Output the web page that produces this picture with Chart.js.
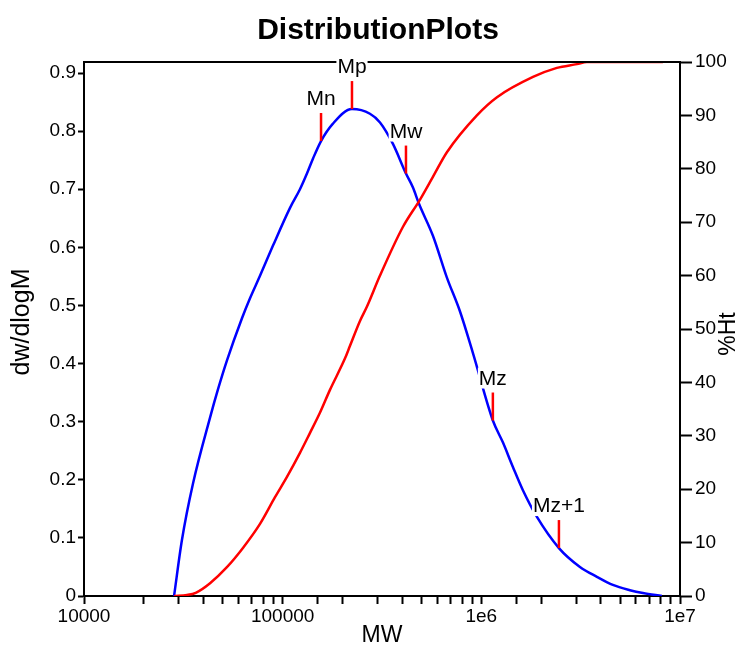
<!DOCTYPE html>
<html>
<head>
<meta charset="utf-8">
<script src="https://cdn.jsdelivr.net/npm/chart.js@4/dist/chart.umd.min.js"></script>
<style>
  html, body { margin: 0; padding: 0; background: #fff; }
  #distChart { display: block; }
</style>
</head>
<body>
<canvas id="distChart" width="740" height="653"></canvas>
<script>
// dw/dlogM curve (blue, left axis)
const mwDist = [28400, 31100, 35400, 43100, 47200, 52400, 62400, 68400, 76900, 89400,
  108900, 122200, 132500, 142200, 156000, 179100, 223300, 275000, 309000, 359000,
  417500, 452700, 485500, 570600, 671000, 780300, 907300, 1143000, 1285000, 1442000,
  1619000, 1905000, 2458000, 3136000, 3817000, 4592000, 5594000, 6507000, 8106000];
const dwdlogM = [0, 0.096, 0.194, 0.307, 0.355, 0.405, 0.478, 0.512, 0.551, 0.603,
  0.668, 0.700, 0.727, 0.753, 0.783, 0.813, 0.838, 0.830, 0.815, 0.778,
  0.727, 0.703, 0.675, 0.620, 0.548, 0.490, 0.418, 0.302, 0.264, 0.222,
  0.182, 0.136, 0.0825, 0.050, 0.033, 0.019, 0.010, 0.005, 0];

// cumulative %Ht curve (red, right axis)
const mwCum = [28400, 33000, 36500, 43100, 52400, 63100, 76900, 91500, 105100, 122200,
  137100, 154000, 173000, 206000, 218000, 245000, 265700, 309000, 402700, 490600,
  570600, 671000, 950000, 1199000, 1820000, 2400000, 3030000, 3400000, 8200000];
const pctHt = [0, 0.2, 0.6, 2.4, 5.4, 9.0, 13.5, 18.5, 22.3, 26.8,
  30.5, 34.3, 38.6, 44.5, 46.8, 51.5, 54.2, 60.0, 69.1, 74.2,
  78.5, 83.1, 90.0, 93.4, 97.2, 98.9, 99.6, 100, 100];

// molecular weight averages
const markerNames = ['Mn', 'Mp', 'Mw', 'Mz', 'Mz+1'];
const markerMW = [156000, 223300, 417500, 1143000, 2458000];
const markerValue = [0.783, 0.838, 0.727, 0.302, 0.0825];

const decadeLabels = { 4: '10000', 5: '100000', 6: '1e6', 7: '1e7' };

const FONT = 'Liberation Sans, Arial, sans-serif';

const annotations = {
    id: 'annotations',
    afterDraw(chart) {
        const ctx = chart.ctx;
        const area = chart.chartArea;
        const xs = chart.scales.x;
        const ys = chart.scales.y;
        ctx.save();

        // top frame line
        ctx.strokeStyle = '#000';
        ctx.lineWidth = 2;
        ctx.beginPath();
        ctx.moveTo(area.left - 1, area.top);
        ctx.lineTo(area.right + 1, area.top);
        ctx.stroke();

        // marker ticks + labels
        ctx.font = '21px ' + FONT;
        ctx.textAlign = 'center';
        ctx.textBaseline = 'alphabetic';
        markerNames.forEach((name, i) => {
            const px = xs.getPixelForValue(markerMW[i]);
            const py = ys.getPixelForValue(markerValue[i]);
            const topY = py - 28;
            ctx.strokeStyle = '#ff0000';
            ctx.lineWidth = 2.5;
            ctx.beginPath();
            ctx.moveTo(px, py);
            ctx.lineTo(px, topY);
            ctx.stroke();
            const w = ctx.measureText(name).width;
            const base = topY - 8;
            ctx.fillStyle = '#fff';
            ctx.fillRect(px - w / 2 - 1, base - 17, w + 2, 21);
            ctx.fillStyle = '#000';
            ctx.fillText(name, px, base);
        });

        // titles
        ctx.fillStyle = '#000';
        ctx.textBaseline = 'middle';
        ctx.font = 'bold 30px ' + FONT;
        ctx.fillText('DistributionPlots', 378, 31);
        ctx.font = '23px ' + FONT;
        ctx.fillText('MW', 382, 636);

        ctx.save();
        ctx.translate(22, 322);
        ctx.rotate(-Math.PI / 2);
        ctx.font = '25px ' + FONT;
        ctx.fillText('dw/dlogM', 0, 0);
        ctx.restore();

        ctx.save();
        ctx.translate(729, 334);
        ctx.rotate(-Math.PI / 2);
        ctx.font = '23px ' + FONT;
        ctx.fillText('%Ht', 0, 0);
        ctx.restore();

        ctx.restore();
    }
};

const axisGrid = (len) => ({
    drawOnChartArea: false,
    drawTicks: true,
    tickLength: len,
    tickColor: '#000',
    tickWidth: 2
});

new Chart(document.getElementById('distChart').getContext('2d'), {
    type: 'line',
    data: {
        datasets: [{
            label: '%Ht',
            data: mwCum.map((m, i) => ({ x: m, y: pctHt[i] })),
            yAxisID: 'y2',
            borderColor: '#ff0000',
            borderWidth: 2.5,
            pointRadius: 0,
            cubicInterpolationMode: 'monotone',
            fill: false
        }, {
            label: 'dw/dlogM',
            data: mwDist.map((m, i) => ({ x: m, y: dwdlogM[i] })),
            yAxisID: 'y',
            borderColor: '#0000ff',
            borderWidth: 2.5,
            pointRadius: 0,
            cubicInterpolationMode: 'monotone',
            fill: false
        }]
    },
    options: {
        responsive: false,
        devicePixelRatio: 1,
        animation: false,
        layout: { padding: { top: 62, left: 0, right: 0, bottom: 0 } },
        plugins: {
            legend: { display: false },
            tooltip: { enabled: false },
            title: { display: false }
        },
        scales: {
            x: {
                type: 'logarithmic',
                position: 'bottom',
                min: 1e4,
                max: 1e7,
                afterFit: (s) => { s.height = 57; },
                grid: axisGrid(8),
                border: { display: true, color: '#000', width: 2 },
                ticks: {
                    autoSkip: false,
                    maxRotation: 0,
                    minRotation: 0,
                    padding: 1,
                    color: '#000',
                    font: { family: FONT, size: 19 },
                    callback: (v) => {
                        const e = Math.log10(v);
                        return Math.abs(e - Math.round(e)) < 1e-9 ? decadeLabels[Math.round(e)] : '';
                    }
                }
            },
            y: {
                type: 'linear',
                position: 'left',
                min: 0,
                max: 0.919,
                afterFit: (s) => { s.width = 84; },
                grid: axisGrid(6),
                border: { display: true, color: '#000', width: 2 },
                ticks: {
                    stepSize: 0.1,
                    includeBounds: false,
                    padding: 2,
                    color: '#000',
                    font: { family: FONT, size: 19 },
                    callback: (v) => (v === 0 ? '0' : v.toFixed(1))
                }
            },
            y2: {
                type: 'linear',
                position: 'right',
                min: 0,
                max: 100,
                afterFit: (s) => { s.width = 60; },
                grid: axisGrid(12),
                border: { display: true, color: '#000', width: 2 },
                ticks: {
                    stepSize: 10,
                    includeBounds: false,
                    padding: 3,
                    color: '#000',
                    font: { family: FONT, size: 19 }
                }
            }
        }
    },
    plugins: [annotations]
});
</script>
</body>
</html>
